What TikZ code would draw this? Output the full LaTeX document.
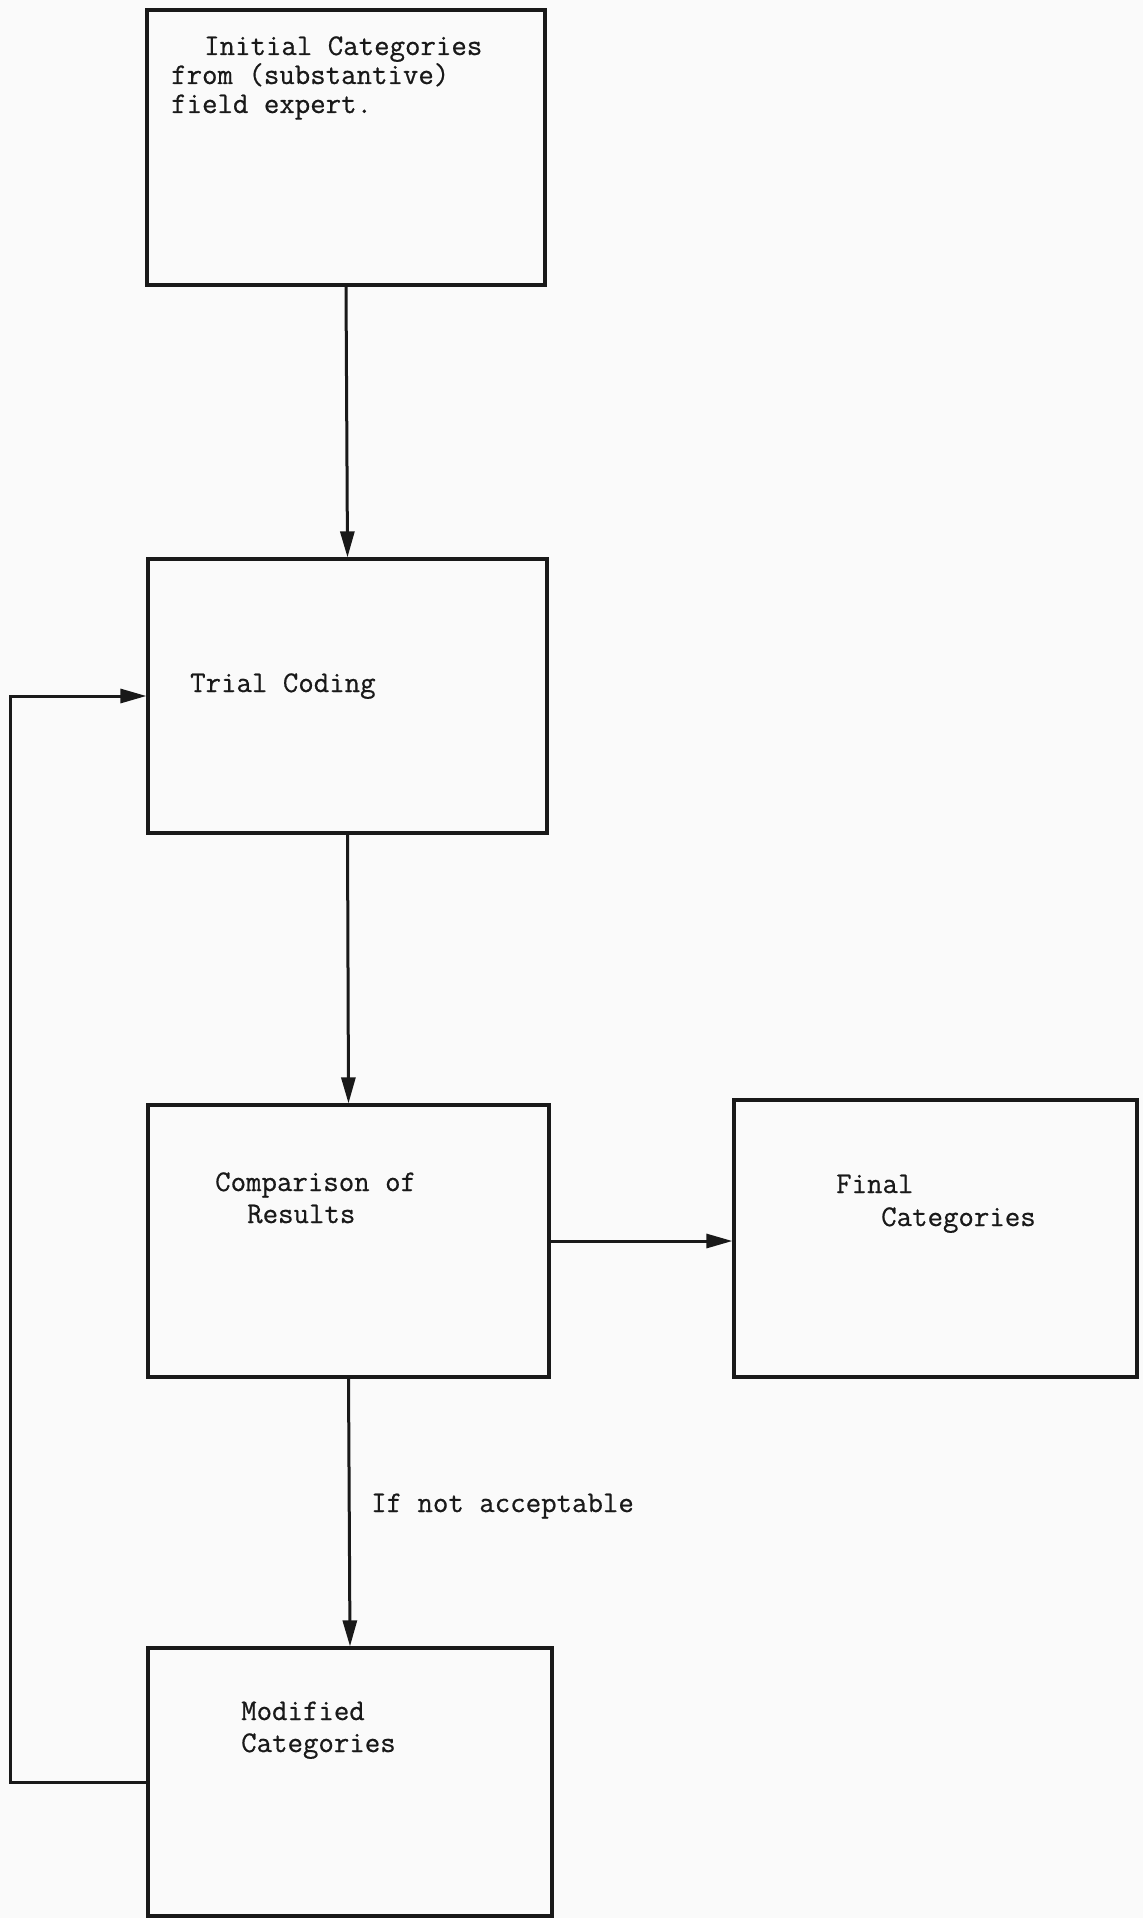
\documentclass[tikz,border=0pt]{standalone}
\usepackage{fontspec}
\newfontfamily\typer[FakeBold=0.6]{Latin Modern Mono}
\usetikzlibrary{arrows.meta}
\begin{document}
\begin{tikzpicture}[x=1pt,y=-1pt,
  box/.style={draw=black!90, line width=3.2pt, rectangle, inner sep=0pt},
  typed/.style={font=\typer\fontsize{30}{32}\selectfont, anchor=base west, inner sep=0pt, text=black!90},
  arr/.style={draw=black!90, line width=3pt, -{Triangle[length=26pt,width=14pt]}}]
% paper
\fill[black!2] (0,0) rectangle (1143,1918);
\useasboundingbox (0,0) rectangle (1143,1918);

% boxes
\node[box, minimum width=398pt, minimum height=275pt] (init)  at (346,147.5) {};
\node[box, minimum width=399pt, minimum height=274pt] (trial) at (347.5,696) {};
\node[box, minimum width=401pt, minimum height=272pt] (comp)  at (348.5,1241) {};
\node[box, minimum width=403pt, minimum height=277pt] (final) at (935.5,1238.5) {};
\node[box, minimum width=404pt, minimum height=268pt] (mod)   at (350,1782) {};

% box texts
\node[typed] (t1a) at (204,55)  {Initial Categories};
\node[typed] (t1b) at (171,84)  {from (substantive)};
\node[typed] (t1c) at (171,113) {field expert.};
\node[typed] (tc)  at (190,692) {Trial Coding};
\node[typed] (cr1) at (215,1191) {Comparison of};
\node[typed] (cr2) at (247,1223) {Results};
\node[typed] (fc1) at (836,1193) {Final};
\node[typed] (fc2) at (881,1226) {Categories};
\node[typed] (mc1) at (241,1720) {Modified};
\node[typed] (mc2) at (241,1752) {Categories};
\node[typed] (lab) at (371,1512) {If not acceptable};

% connectors
\coordinate (loopx) at (10,0);
\draw[arr] (init.south) -- (trial.north);
\draw[arr] (trial.south) -- (comp.north);
\draw[arr] (comp.east) -- (comp.east -| final.west);
\draw[arr] (comp.south) -- (mod.north);
\draw[arr] (mod.west) -- (mod.west -| loopx) -- (trial.west -| loopx) -- (trial.west);
\end{tikzpicture}
\end{document}
